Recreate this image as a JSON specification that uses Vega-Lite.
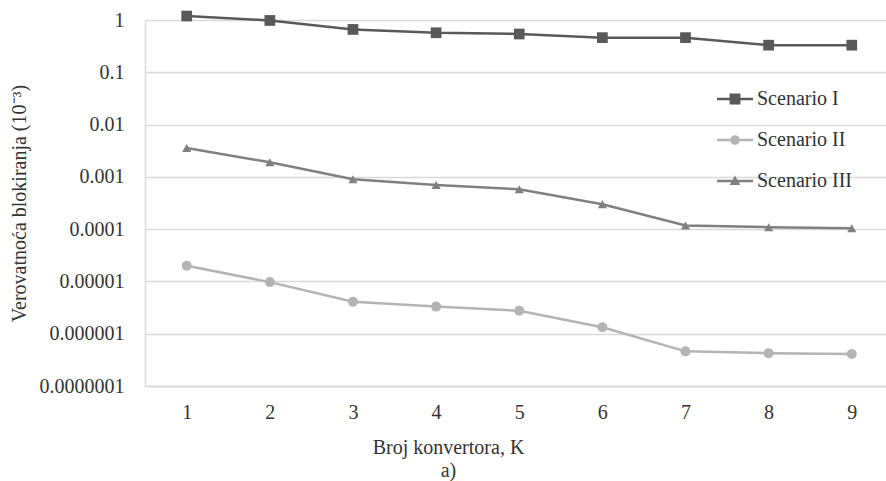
{
  "$schema": "https://vega.github.io/schema/vega-lite/v6.json",
  "width": 741,
  "height": 366,
  "autosize": {"type": "none"},
  "padding": {"left": 145, "top": 20, "right": 0, "bottom": 95},
  "background": "white",
  "config": {"view": {"stroke": null}},
  "data": {
    "values": [
      {"K": 1, "P": 1.19, "S": "Scenario I"},
      {"K": 2, "P": 0.98, "S": "Scenario I"},
      {"K": 3, "P": 0.66, "S": "Scenario I"},
      {"K": 4, "P": 0.57, "S": "Scenario I"},
      {"K": 5, "P": 0.54, "S": "Scenario I"},
      {"K": 6, "P": 0.46, "S": "Scenario I"},
      {"K": 7, "P": 0.46, "S": "Scenario I"},
      {"K": 8, "P": 0.33, "S": "Scenario I"},
      {"K": 9, "P": 0.33, "S": "Scenario I"},
      {"K": 1, "P": 0.00002, "S": "Scenario II"},
      {"K": 2, "P": 0.0000097, "S": "Scenario II"},
      {"K": 3, "P": 0.0000041, "S": "Scenario II"},
      {"K": 4, "P": 0.0000033, "S": "Scenario II"},
      {"K": 5, "P": 0.00000275, "S": "Scenario II"},
      {"K": 6, "P": 0.00000133, "S": "Scenario II"},
      {"K": 7, "P": 0.00000046, "S": "Scenario II"},
      {"K": 8, "P": 0.000000425, "S": "Scenario II"},
      {"K": 9, "P": 0.00000041, "S": "Scenario II"},
      {"K": 1, "P": 0.00356, "S": "Scenario III"},
      {"K": 2, "P": 0.0019, "S": "Scenario III"},
      {"K": 3, "P": 0.0009, "S": "Scenario III"},
      {"K": 4, "P": 0.0007, "S": "Scenario III"},
      {"K": 5, "P": 0.00058, "S": "Scenario III"},
      {"K": 6, "P": 0.0003, "S": "Scenario III"},
      {"K": 7, "P": 0.000117, "S": "Scenario III"},
      {"K": 8, "P": 0.000109, "S": "Scenario III"},
      {"K": 9, "P": 0.000104, "S": "Scenario III"}
    ]
  },
  "encoding": {
    "x": {
      "field": "K",
      "type": "quantitative",
      "scale": {"domain": [0.498, 9.412], "nice": false, "zero": false},
      "axis": {
        "values": [1, 2, 3, 4, 5, 6, 7, 8, 9],
        "format": "d",
        "grid": false,
        "ticks": false,
        "tickSize": 0,
        "labelPadding": 16,
        "labelBaseline": "top",
        "labelFontSize": 20,
        "labelFont": "Times New Roman",
        "labelColor": "#333333",
        "domainColor": "#d9d9d9",
        "domainWidth": 1.5,
        "title": ["Broj konvertora, K", "a)"],
        "titleFont": "Times New Roman",
        "titleFontSize": 20,
        "titleFontWeight": "normal",
        "titleColor": "#333333",
        "titleX": 303,
        "titleY": 51,
        "titleAlign": "center",
        "titleBaseline": "top",
        "titleLineHeight": 23
      }
    },
    "y": {
      "field": "P",
      "type": "quantitative",
      "scale": {"type": "log", "domain": [0.0000001, 1], "nice": false},
      "axis": {
        "values": [0.0000001, 0.000001, 0.00001, 0.0001, 0.001, 0.01, 0.1, 1],
        "format": ".7~f",
        "grid": true,
        "gridColor": "#d9d9d9",
        "gridWidth": 1.5,
        "ticks": false,
        "tickSize": 0,
        "labelPadding": 21,
        "labelFontSize": 20,
        "labelFont": "Times New Roman",
        "labelColor": "#333333",
        "domainColor": "#d9d9d9",
        "domainWidth": 1.5,
        "title": "Verovatnoća blokiranja (10⁻³)",
        "titleFont": "Times New Roman",
        "titleFontSize": 20,
        "titleFontWeight": "normal",
        "titleColor": "#333333",
        "titleX": -126,
        "titleY": 183,
        "titleAngle": -90,
        "titleAlign": "center",
        "titleBaseline": "middle"
      }
    }
  },
  "layer": [
    {
      "mark": {"type": "line", "strokeWidth": 2.5, "clip": false},
      "encoding": {
        "color": {
          "field": "S",
          "type": "nominal",
          "scale": {"domain": ["Scenario I", "Scenario II", "Scenario III"], "range": ["#595959", "#b4b4b4", "#808080"]},
          "legend": null
        }
      }
    },
    {
      "mark": {"type": "point", "filled": true, "opacity": 1, "clip": false},
      "encoding": {
        "color": {
          "field": "S",
          "type": "nominal",
          "scale": {"domain": ["Scenario I", "Scenario II", "Scenario III"], "range": ["#595959", "#b4b4b4", "#808080"]},
          "legend": null
        },
        "shape": {
          "field": "S",
          "type": "nominal",
          "scale": {"domain": ["Scenario I", "Scenario II", "Scenario III"], "range": ["square", "circle", "triangle-up"]},
          "legend": null
        },
        "size": {
          "field": "S",
          "type": "nominal",
          "scale": {"domain": ["Scenario I", "Scenario II", "Scenario III"], "range": [115, 85, 120]},
          "legend": null
        }
      }
    },
    {
      "transform": [{"filter": "datum.K > 100"}],
      "mark": {"type": "point", "filled": true, "opacity": 1},
      "encoding": {
        "color": {
          "field": "S",
          "type": "nominal",
          "title": null,
          "scale": {"domain": ["Scenario I", "Scenario II", "Scenario III"], "range": ["#595959", "#b4b4b4", "#808080"]},
          "legend": {
            "orient": "none",
            "legendX": 572,
            "legendY": 61,
            "padding": 0,
            "symbolSize": 1296,
            "symbolStrokeWidth": 0,
            "rowPadding": 13,
            "labelOffset": 4,
            "labelFont": "Times New Roman",
            "labelFontSize": 20,
            "labelColor": "#333333",
            "labelBaseline": "middle"
          }
        },
        "shape": {
          "field": "S",
          "type": "nominal",
          "title": null,
          "scale": {
            "domain": ["Scenario I", "Scenario II", "Scenario III"],
            "range": [
              "M-1,-0.07H1V0.07H-1Z M-0.3,-0.3H0.3V0.3H-0.3Z",
              "M-1,-0.07H1V0.07H-1Z M-0.27,0A0.27,0.27 0 1,1 0.27,0A0.27,0.27 0 1,1 -0.27,0Z",
              "M-1,-0.07H1V0.07H-1Z M0,-0.3L0.3,0.22H-0.3Z"
            ]
          },
          "legend": {
            "orient": "none",
            "legendX": 572,
            "legendY": 61,
            "padding": 0,
            "symbolSize": 1296,
            "symbolStrokeWidth": 0,
            "rowPadding": 13,
            "labelOffset": 4,
            "labelFont": "Times New Roman",
            "labelFontSize": 20,
            "labelColor": "#333333",
            "labelBaseline": "middle"
          }
        }
      }
    }
  ],
  "resolve": {"scale": {"color": "independent", "shape": "independent", "size": "independent"}}
}
